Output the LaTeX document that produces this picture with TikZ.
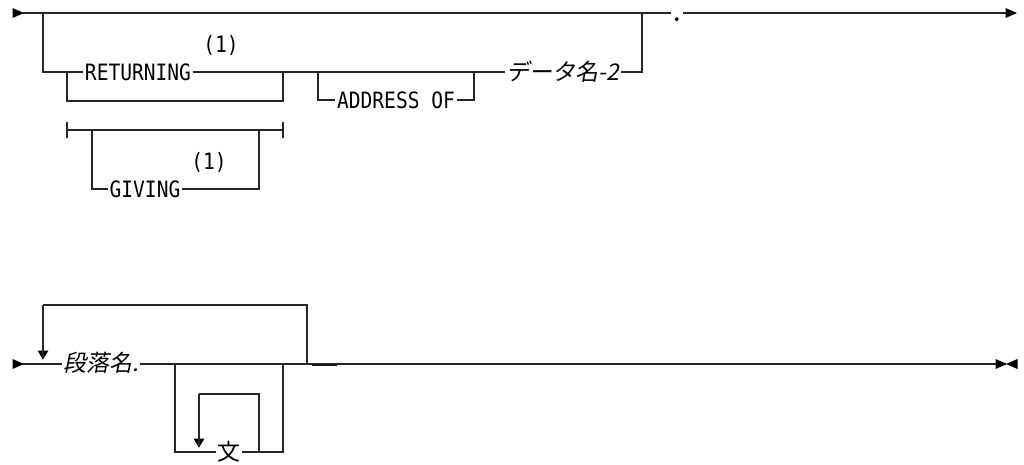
\documentclass[tikz,border=0pt]{standalone}
\usepackage{fontspec}
\setmonofont[FakeStretch=0.87]{DejaVu Sans Mono}
\newfontfamily\jpslant[FakeSlant=0.2]{Noto Sans CJK JP}
\newfontfamily\jpup{Noto Sans CJK JP}
\usetikzlibrary{positioning}

\begin{document}
\begin{tikzpicture}[x=1pt, y=-1pt]
    % 自定义命令：三角形标记
    \newcommand{\RightTri}[1]{\fill ([shift={(-5.5,-5)}]#1) -- ([shift={(6,0)}]#1) -- ([shift={(-5.5,5)}]#1) -- cycle;}
    \newcommand{\LeftTri}[1]{\fill ([shift={(5.5,-5)}]#1) -- ([shift={(-6,0)}]#1) -- ([shift={(5.5,5)}]#1) -- cycle;}
    \newcommand{\DownTri}[1]{\fill ([shift={(-5.5,-4.5)}]#1) -- ([shift={(5.5,-4.5)}]#1) -- ([shift={(0,4.5)}]#1) -- cycle;}

    % --- 设置全局样式 ---
    \tikzset{
        rail/.style = {
            draw=black!85,          % 线条颜色
            line width=1.1pt,       % 线条粗细
            line join=miter
        },
        kw/.style = {
            inner sep=1.5pt,        % 内部文字边距
            font=\ttfamily\fontsize{22.5}{24}\selectfont
        },
        var/.style = {
            inner sep=1.5pt,
            font=\jpslant\fontsize{23}{26}\selectfont
        },
        stmt/.style = {
            inner sep=1.5pt,
            font=\jpup\fontsize{23}{26}\selectfont
        },
        note/.style = {
            inner sep=0pt,
            font=\ttfamily\fontsize{22.5}{24}\selectfont
        }
    }

    % 背景 (固定边界)
    \useasboundingbox (0,0) rectangle (1024,464);

    % --- 上层 ---
    \coordinate (s1) at (18,13);
    \coordinate (a0) at (43,13);
    \coordinate (a1) at (43,72);
    \coordinate (r0) at (67,72);
    \coordinate (r1) at (67,101);
    \coordinate (r2) at (283,101);
    \coordinate (r3) at (283,72);
    \coordinate (d0) at (318,72);
    \coordinate (d1) at (318,100);
    \coordinate (d2) at (474,100);
    \coordinate (d3) at (474,72);
    \coordinate (e0) at (642,72);
    \coordinate (e1) at (642,13);
    \coordinate (dotL) at (671,13);
    \coordinate (dotR) at (683,13);
    \coordinate (t1) at (1011,13);

    \node[kw]  (ret)  at (138,72)  {RETURNING};
    \node[note] (n1)  at (221,45)  {(1)};
    \node[kw]  (addr) at (396,100) {ADDRESS OF};
    \node[var] (dat)  at (563,72)  {データ名-2};
    \node[anchor=base, inner sep=0pt, font=\bfseries\fontsize{26}{26}\selectfont] (dot) at (677,21) {.};

    \RightTri{s1}
    \RightTri{t1}
    \draw[rail] ([xshift=5]s1) -- (a0) -- (e1) -- (dotL);
    \draw[rail] (dotR) -- ([xshift=-5]t1);
    \draw[rail] (a0) -- (a1) -- (r0) -- (ret.west);
    \draw[rail] (ret.east) -- (r3) -- (d0) -- (d3) -- (dat.west);
    \draw[rail] (dat.east) -- (e0) -- (e1);
    \draw[rail] (r0) -- (r1) -- (r2) -- (r3);
    \draw[rail] (d0) -- (d1) -- (addr.west);
    \draw[rail] (addr.east) -- (d2) -- (d3);

    % --- GIVING ---
    \coordinate (g0) at (67,130);
    \coordinate (g1) at (92,130);
    \coordinate (g2) at (92,189);
    \coordinate (g3) at (259,189);
    \coordinate (g4) at (259,130);
    \coordinate (g5) at (283,130);
    \node[kw]  (giv) at (145,189) {GIVING};
    \node[note] (n2) at (209,162) {(1)};

    \draw[rail] (g0) -- (g5);
    \draw[rail] ([yshift=-8]g0) -- ([yshift=8]g0);
    \draw[rail] ([yshift=-8]g5) -- ([yshift=8]g5);
    \draw[rail] (g1) -- (g2) -- (giv.west);
    \draw[rail] (giv.east) -- (g3) -- (g4);

    % --- 下层 ---
    \coordinate (s2) at (18,364);
    \coordinate (b0) at (43,305);
    \coordinate (b1) at (43,355);
    \coordinate (b2) at (307,305);
    \coordinate (b3) at (307,364);
    \coordinate (c0) at (175,364);
    \coordinate (c1) at (175,452);
    \coordinate (c2) at (283,452);
    \coordinate (c3) at (283,364);
    \coordinate (l0) at (199,394);
    \coordinate (l1) at (199,443);
    \coordinate (l2) at (259,394);
    \coordinate (l3) at (259,452);
    \coordinate (k0) at (312,365);
    \coordinate (k1) at (337,365);
    \coordinate (t2) at (1001,364);
    \coordinate (t3) at (1012,364);

    \node[var]  (par) at (101,363) {段落名.};
    \node[stmt] (bun) at (229,452) {文};

    \RightTri{s2}
    \DownTri{b1}
    \DownTri{l1}
    \RightTri{t2}
    \LeftTri{t3}
    \draw[rail] ([xshift=5]s2) -- (par.west |- s2);
    \draw[rail] (par.east |- s2) -- (b3) -- ([xshift=-5]t2);
    \draw[rail] (b0) -- ([yshift=-4]b1);
    \draw[rail] (b0) -- (b2) -- (b3);
    \draw[line width=2.6pt, black!90] (k0) -- (k1);
    \draw[rail] (c0) -- (c1) -- (bun.west |- c1);
    \draw[rail] (bun.east |- c1) -- (c2) -- (c3);
    \draw[rail] (l0) -- ([yshift=-4]l1);
    \draw[rail] (l0) -- (l2) -- (l3);
\end{tikzpicture}
\end{document}
